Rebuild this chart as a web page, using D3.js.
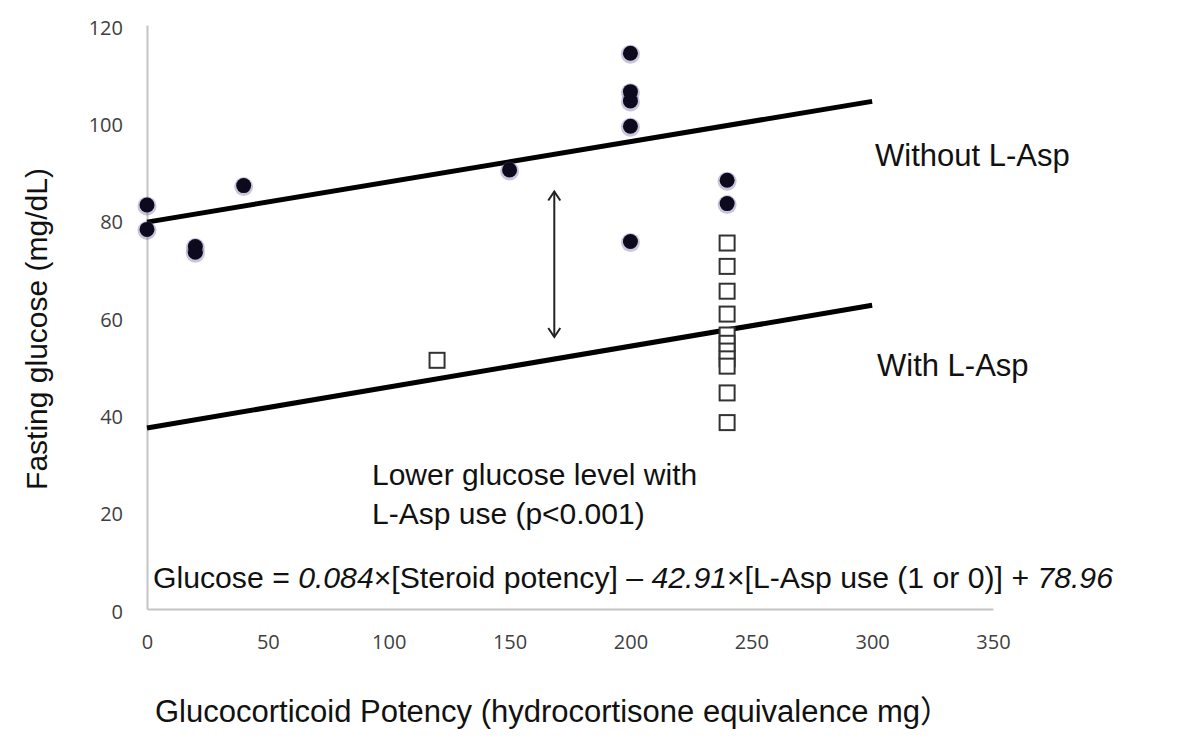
<!DOCTYPE html>
<html>
<head>
<meta charset="utf-8">
<script src="https://cdn.jsdelivr.net/npm/d3@7"></script>
<style>
  html, body { margin: 0; padding: 0; background: #fff; }
  svg { display: block; }
</style>
</head>
<body>
<svg id="chart" width="1200" height="746"></svg>
<script>
// ---- data ----
const xTicks = [0, 50, 100, 150, 200, 250, 300, 350];
const yTicks = [0, 20, 40, 60, 80, 100, 120];

// Without L-Asp (filled circles): [potency, glucose]
const withoutX = [0, 0, 20, 20, 40, 150, 200, 200, 200, 200, 200, 240, 240];
const withoutY = [83, 78, 74.5, 73.3, 87, 90.2, 114.2, 106.3, 104.4, 99.2, 75.5, 88.1, 83.3];

// With L-Asp (open squares)
const withX = [120, 240, 240, 240, 240, 240, 240, 240, 240, 240, 240, 240];
const withY = [51.1, 75.2, 70.4, 65.3, 60.6, 56.3, 54.6, 53, 51.4, 49.9, 44.4, 38.3];

// regression lines [x0, x1], [y0, y1]
const lineX = [0, 300];
const lineWithoutY = [79.5, 104.3];
const lineWithY = [37.2, 62.4];

// double arrow between the lines
const arrowX = 168.5;
const arrowY = [85.8, 55.9];

// ---- layout ----
const svg = d3.select("#chart");
const x = d3.scaleLinear().domain([0, 350]).range([147, 993]);
const y = d3.scaleLinear().domain([0, 120]).range([609, 25]);

const tickFont = "'Open Sans', sans-serif";
const mainFont = "'Liberation Sans', Arial, 'Noto Sans CJK JP', sans-serif";

// axes
const xAxis = d3.axisBottom(x).tickValues(xTicks).tickSize(0).tickPadding(0);
const gx = svg.append("g").attr("transform", `translate(0,${y(0)})`).call(xAxis);
gx.select(".domain").attr("stroke", "#c4c4c4").attr("stroke-width", 2);
gx.selectAll("text").attr("font-family", tickFont).attr("font-size", 20)
  .attr("fill", "#404040").attr("y", 40).attr("dy", 0);

const yAxis = d3.axisLeft(y).tickValues(yTicks).tickSize(0).tickPadding(24);
const gy = svg.append("g").attr("transform", `translate(${x(0)},0)`).call(yAxis);
gy.select(".domain").attr("stroke", "#c4c4c4").attr("stroke-width", 2);
gy.selectAll("text").attr("font-family", tickFont).attr("font-size", 20)
  .attr("fill", "#404040").attr("dy", "0.45em");

// regression lines
const line = d3.line().x(d => x(d[0])).y(d => y(d[1]));
svg.append("path").datum(lineX.map((v, i) => [v, lineWithoutY[i]]))
  .attr("d", line).attr("stroke", "#000").attr("stroke-width", 5).attr("fill", "none");
svg.append("path").datum(lineX.map((v, i) => [v, lineWithY[i]]))
  .attr("d", line).attr("stroke", "#000").attr("stroke-width", 5).attr("fill", "none");

// filled circles
const circ = withoutX.map((v, i) => [v, withoutY[i]]);
svg.append("g").selectAll("circle").data(circ).join("circle")
  .attr("cx", d => x(d[0])).attr("cy", d => y(d[1]) + 1).attr("r", 9.5)
  .attr("fill", "#6a5a9c").attr("opacity", 0.35);
svg.append("g").selectAll("circle").data(circ).join("circle")
  .attr("cx", d => x(d[0])).attr("cy", d => y(d[1])).attr("r", 7.5)
  .attr("fill", "#0c0a1c");

// open squares
const sq = withX.map((v, i) => [v, withY[i]]);
const s = 15;
svg.append("g").selectAll("rect").data(sq).join("rect")
  .attr("x", d => x(d[0]) - s / 2).attr("y", d => y(d[1]) - s / 2)
  .attr("width", s).attr("height", s)
  .attr("fill", "#fff").attr("stroke", "#333").attr("stroke-width", 2);

// double arrow
const ax = x(arrowX), ay0 = y(arrowY[0]), ay1 = y(arrowY[1]);
const ag = svg.append("g").attr("stroke", "#222").attr("stroke-width", 2).attr("fill", "none");
ag.append("line").attr("x1", ax).attr("x2", ax).attr("y1", ay0).attr("y2", ay1);
ag.append("path").attr("d", `M${ax - 6},${ay0 + 9}L${ax},${ay0}L${ax + 6},${ay0 + 9}`);
ag.append("path").attr("d", `M${ax - 6},${ay1 - 9}L${ax},${ay1}L${ax + 6},${ay1 - 9}`);

// annotation text
function txt(t, px, py, size) {
  return svg.append("text").attr("x", px).attr("y", py)
    .attr("font-family", mainFont).attr("font-size", size || 30).attr("fill", "#111").text(t);
}
txt("Without L-Asp", 875, 166, 31);
txt("With L-Asp", 877, 376, 31);
txt("Lower glucose level with", 372, 485, 30);
txt("L-Asp use (p<0.001)", 372, 524, 30);

const eq = svg.append("text").attr("x", 153).attr("y", 588)
  .attr("font-family", mainFont).attr("font-size", 30.2).attr("fill", "#111");
const parts = [
  ["Glucose = ", false], ["0.084", true], ["\u00d7[Steroid potency] \u2013 ", false],
  ["42.91", true], ["\u00d7[L-Asp use (1 or 0)] + ", false], ["78.96", true]
];
parts.forEach(p => eq.append("tspan").attr("font-style", p[1] ? "italic" : "normal").text(p[0]));

// axis titles
txt("Glucocorticoid Potency (hydrocortisone equivalence mg\uff09", 155, 722, 31);
svg.append("text").attr("transform", "translate(47,329) rotate(-90)")
  .attr("text-anchor", "middle")
  .attr("font-family", mainFont).attr("font-size", 30).attr("fill", "#111")
  .text("Fasting glucose (mg/dL)");
</script>
</body>
</html>
